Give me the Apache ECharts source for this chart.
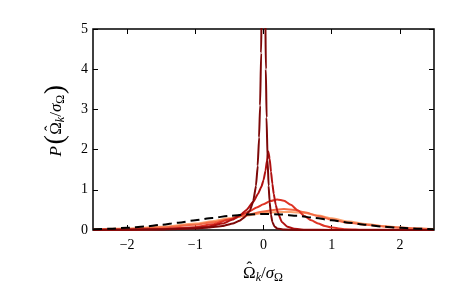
<!DOCTYPE html>
<html><head><meta charset="utf-8">
<script src="https://cdn.jsdelivr.net/npm/echarts@6/dist/echarts.min.js"></script>
<style>html,body{margin:0;padding:0;background:#fff}#c{width:467px;height:288px}</style>
</head><body><div id="c"></div>
<script>
const xTicks = [-2, -1, 0, 1, 2];
const yTicks = [0, 1, 2, 3, 4, 5];

// curve A: narrowest, darkest
const xA = [-2.5,-2,-1.5,-1,-0.8,-0.6,-0.45,-0.35,-0.27,-0.2,-0.15,-0.11,-0.085,-0.065,-0.05,-0.035,-0.025,-0.015,-0.005,0,0.005,0.015,0.025,0.035,0.045,0.06,0.075,0.09,0.11,0.13,0.16,0.2,0.3,0.5,1,2.5];
const yA = [0.003,0.007,0.015,0.035,0.06,0.1,0.16,0.23,0.33,0.48,0.72,1.1,1.6,2.3,3.1,4.4,5.8,8,11,12,11,8,5.6,4.0,2.8,1.75,1.1,0.7,0.38,0.2,0.09,0.04,0.01,0.003,0.001,0];
// curve B: peak ~1.95
const xB = [-2.5,-2,-1.5,-1,-0.8,-0.6,-0.45,-0.34,-0.25,-0.15,-0.08,-0.03,0,0.03,0.05,0.07,0.09,0.11,0.13,0.15,0.18,0.21,0.27,0.35,0.45,0.6,1,2.5];
const yB = [0.004,0.009,0.02,0.055,0.09,0.16,0.26,0.37,0.5,0.7,0.9,1.08,1.24,1.48,1.72,1.95,1.78,1.45,1.15,0.9,0.62,0.43,0.2,0.08,0.03,0.008,0.001,0];
// curve C: red, peak ~0.76
const xC = [-2.5,-2,-1.5,-1,-0.75,-0.5,-0.3,-0.2,-0.1,0,0.1,0.2,0.3,0.4,0.5,0.6,0.7,0.8,0.9,1,1.2,1.5,2.5];
const yC = [0.003,0.008,0.025,0.07,0.14,0.26,0.39,0.47,0.56,0.64,0.72,0.76,0.73,0.63,0.49,0.35,0.24,0.16,0.1,0.06,0.02,0.005,0];
// curve D: orange-red, peak ~0.52
const xD = [-2.5,-2,-1.5,-1,-0.75,-0.5,-0.25,0,0.15,0.3,0.45,0.6,0.8,1,1.25,1.5,1.75,2,2.25,2.5];
const yD = [0.01,0.025,0.06,0.13,0.19,0.27,0.37,0.46,0.5,0.52,0.5,0.44,0.35,0.26,0.18,0.13,0.09,0.06,0.035,0.02];
// curve E: light orange, peak ~0.45
const xE = [-2.5,-2,-1.5,-1,-0.75,-0.5,-0.25,0,0.2,0.4,0.6,0.8,1,1.25,1.5,1.75,2,2.25,2.5];
const yE = [0.015,0.035,0.08,0.16,0.22,0.29,0.36,0.42,0.45,0.45,0.42,0.36,0.29,0.21,0.15,0.1,0.065,0.04,0.025];
// dashed reference curve
const xN = [-2.5,-2.25,-2,-1.75,-1.5,-1.25,-1,-0.75,-0.5,-0.25,0,0.25,0.5,0.75,1,1.25,1.5,1.75,2,2.25,2.5];
const yN = [0.018,0.032,0.054,0.086,0.13,0.183,0.242,0.301,0.352,0.387,0.399,0.387,0.352,0.301,0.242,0.183,0.13,0.086,0.054,0.032,0.018];

const zip = (xs, ys) => xs.map((x, i) => [x, ys[i]]);
const FAM = "'Liberation Serif', 'DejaVu Serif', serif";

const mctx = document.createElement('canvas').getContext('2d');
function tw(text, size, italic) {
  mctx.font = (italic ? 'italic ' : '') + size + 'px ' + FAM;
  return mctx.measureText(text).width;
}

function buildLabel(pieces) {
  let total = 0;
  pieces.forEach(p => { p.w = tw(p.t, p.size, p.italic) + (p.gap || 0); total += p.w; });
  let x = -total / 2;
  const els = [];
  pieces.forEach(p => {
    const g = p.gap || 0;
    els.push({ type: 'text', x: x + g / 2, y: p.dy || 0, silent: true,
      style: { text: p.t, fill: '#000', font: (p.italic ? 'italic ' : '') + p.size + 'px ' + FAM,
               align: 'left', verticalAlign: 'middle' } });
    if (p.hat) {
      els.push({ type: 'text', x: x + p.w / 2, y: (p.dy || 0) - p.size * 0.3, silent: true,
        style: { text: '\u02C6', fill: '#000', font: p.size + 'px ' + FAM, align: 'center', verticalAlign: 'middle' } });
    }
    x += p.w;
  });
  return els;
}

const xTitle = buildLabel([
  { t: '\u03A9', size: 17, hat: true },
  { t: 'k', size: 12, italic: true, dy: 4 },
  { t: '/', size: 17 },
  { t: '\u03C3', size: 17, italic: true },
  { t: '\u03A9', size: 12, dy: 4 }
]);
const yTitle = buildLabel([
  { t: 'P', size: 17, italic: true, gap: 2 },
  { t: '(', size: 28, dy: -1, gap: 1 },
  { t: '\u03A9', size: 17, hat: true },
  { t: 'k', size: 12, italic: true, dy: 4 },
  { t: '/', size: 17 },
  { t: '\u03C3', size: 17, italic: true },
  { t: '\u03A9', size: 12, dy: 4 },
  { t: ')', size: 28, dy: -1, gap: 1 }
]);

function line(xs, ys, color, extra) {
  return Object.assign({
    type: 'line', data: zip(xs, ys), showSymbol: false, smooth: 0.25, smoothMonotone: 'x',
    lineStyle: { color: color, width: 2 }, clip: true, animation: false, z: 2
  }, extra || {});
}

const chart = echarts.init(document.getElementById('c'), null, { renderer: 'canvas' });
const hidden = { show: false };
const tickStyle = { color: '#000', width: 1 };
chart.setOption({
  animation: false,
  backgroundColor: '#fff',
  grid: { left: 93, right: 33, top: 29, bottom: 58, show: true, borderColor: '#000', borderWidth: 1.5, backgroundColor: 'transparent' },
  xAxis: [{
    type: 'value', min: -2.5, max: 2.5,
    axisLine: { show: false, onZero: false },
    splitLine: hidden,
    axisTick: { inside: true, length: 5, customValues: xTicks, lineStyle: tickStyle },
    axisLabel: { customValues: xTicks, margin: 8, color: '#000', fontFamily: FAM, fontSize: 14,
      formatter: v => (v < 0 ? '\u2212' + (-v) : String(v)) }
  }, {
    type: 'value', min: -2.5, max: 2.5, position: 'top',
    axisLine: { show: false, onZero: false }, splitLine: hidden, axisLabel: hidden,
    axisTick: { inside: true, length: 5, customValues: xTicks, lineStyle: tickStyle }
  }],
  yAxis: [{
    type: 'value', min: 0, max: 5, interval: 1,
    axisLine: { show: false, onZero: false }, splitLine: hidden,
    axisTick: { inside: true, length: 5, customValues: yTicks, lineStyle: tickStyle },
    axisLabel: { customValues: yTicks, margin: 5, color: '#000', fontFamily: FAM, fontSize: 14 }
  }, {
    type: 'value', min: 0, max: 5, interval: 1, position: 'right',
    axisLine: { show: false, onZero: false }, splitLine: hidden, axisLabel: hidden,
    axisTick: { inside: true, length: 5, customValues: yTicks, lineStyle: tickStyle }
  }],
  graphic: [
    { type: 'group', x: 263, y: 274, children: xTitle },
    { type: 'group', x: 57, y: 121, rotation: Math.PI / 2, children: yTitle }
  ],
  series: [
    line(xE, yE, '#fca36f'),
    line(xD, yD, '#f26a45'),
    line(xC, yC, '#de3324'),
    line(xB, yB, '#b01111', { smooth: 0.15 }),
    line(xA, yA, '#7d0808', { smooth: 0.1 }),
    line(xN, yN, '#000', { lineStyle: { color: '#000', width: 2, type: [9, 5] }, z: 3 })
  ]
});
</script></body></html>
